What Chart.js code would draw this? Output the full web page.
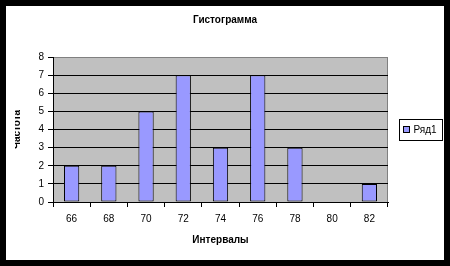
<!DOCTYPE html>
<html>
<head>
<meta charset="utf-8">
<script src="https://cdn.jsdelivr.net/npm/chart.js@4/dist/chart.umd.min.js"></script>
<style>
  html, body { margin: 0; padding: 0; background: #fff; }
  #frame { position: relative; width: 450px; height: 266px; background: #000; }
  #wrap { position: absolute; left: 6px; top: 6px; width: 438px; height: 254px; background: #fff; }
</style>
</head>
<body>
<div id="frame"><div id="wrap"><canvas id="chart" width="438" height="254"></canvas></div></div>
<script>
// histogram data
const intervals = ['66', '68', '70', '72', '74', '76', '78', '80', '82'];
const counts = [2, 2, 5, 7, 3, 7, 3, 0, 1];
const seriesName = 'Ряд1';
const yTicks = [0, 1, 2, 3, 4, 5, 6, 7, 8];

const FONT = "'Liberation Sans', Arial, sans-serif";

// grey plot area with its frame, plus the boxed legend on the right
const excelLook = {
    id: 'excelLook',
    beforeDraw(chart) {
        const { ctx, chartArea: a } = chart;
        ctx.save();
        ctx.fillStyle = '#c0c0c0';
        ctx.fillRect(a.left, a.top, a.right - a.left, a.bottom - a.top);
        ctx.strokeStyle = '#808080';
        ctx.lineWidth = 1;
        ctx.beginPath();
        ctx.moveTo(Math.round(a.right) - 0.5, a.top);
        ctx.lineTo(Math.round(a.right) - 0.5, a.bottom);
        ctx.stroke();
        ctx.restore();
    },
    afterDraw(chart) {
        const { ctx, chartArea: a } = chart;
        const ds = chart.data.datasets[0];
        // the axis title is cut at the left edge in the original
        ctx.save();
        ctx.fillStyle = '#fff';
        ctx.fillRect(0, a.top, 9, a.bottom - a.top);

        const bx = Math.round(a.right) + 11.5;
        const by = Math.round((a.top + a.bottom) / 2) - 10.5;
        const bw = 43, bh = 21;
        ctx.fillRect(bx, by, bw, bh);
        ctx.strokeStyle = '#000';
        ctx.lineWidth = 1;
        ctx.strokeRect(bx, by, bw, bh);
        ctx.fillStyle = ds.backgroundColor;
        ctx.fillRect(bx + 4, by + 7, 6, 6);
        ctx.strokeRect(bx + 4, by + 7, 6, 6);
        ctx.fillStyle = '#000';
        ctx.font = '10px ' + FONT;
        ctx.textBaseline = 'middle';
        ctx.fillText(ds.label, bx + 14, by + bh / 2 + 0.5);
        ctx.restore();
    }
};

new Chart(document.getElementById('chart'), {
    type: 'bar',
    data: {
        labels: intervals,
        datasets: [{
            label: seriesName,
            data: counts,
            backgroundColor: '#9999ff',
            borderColor: '#000',
            borderWidth: 1,
            borderSkipped: false,
            categoryPercentage: 1,
            barPercentage: 0.41
        }]
    },
    options: {
        responsive: false,
        animation: false,
        devicePixelRatio: 1,
        layout: { padding: 0 },
        plugins: {
            legend: { display: false },
            tooltip: { enabled: false },
            title: {
                display: true,
                text: 'Гистограмма',
                color: '#000',
                font: { family: FONT, size: 10, weight: 'bold' },
                padding: { top: 8.5, bottom: 30.5 }
            }
        },
        scales: {
            x: {
                offset: true,
                grid: {
                    offset: true,
                    drawOnChartArea: false,
                    drawTicks: true,
                    tickLength: 5,
                    color: '#000'
                },
                border: { color: '#000' },
                ticks: {
                    color: '#000',
                    padding: 6,
                    maxRotation: 0,
                    font: { family: FONT, size: 10 }
                },
                title: {
                    display: true,
                    text: 'Интервалы',
                    color: '#000',
                    font: { family: FONT, size: 10, weight: 'bold' },
                    padding: { top: 0, bottom: 13.5 }
                },
                afterFit(scale) { scale.width = scale.width; scale.height = 58; }
            },
            y: {
                min: 0,
                max: 8,
                afterBuildTicks(scale) { scale.ticks = yTicks.map(v => ({ value: v })); },
                grid: {
                    color: ctx => (ctx.tick && ctx.tick.value === 8 ? '#808080' : '#000'),
                    tickLength: 5,
                    tickColor: '#000'
                },
                border: { color: '#000' },
                ticks: {
                    color: '#000',
                    padding: 4,
                    font: { family: FONT, size: 10 }
                },
                title: {
                    display: true,
                    text: 'Частота',
                    color: '#000',
                    font: { family: FONT, size: 10, weight: 'bold' },
                    padding: { top: 5.5, bottom: 0 }
                },
                afterFit(scale) { scale.width = 47; }
            },
            // empty right-hand strip that leaves room for the legend box
            legendRoom: {
                type: 'linear',
                position: 'right',
                display: true,
                grid: { display: false, drawTicks: false },
                border: { display: false },
                ticks: { display: false },
                afterFit(scale) { scale.width = 56; }
            }
        }
    },
    plugins: [excelLook]
});
</script>
</body>
</html>
